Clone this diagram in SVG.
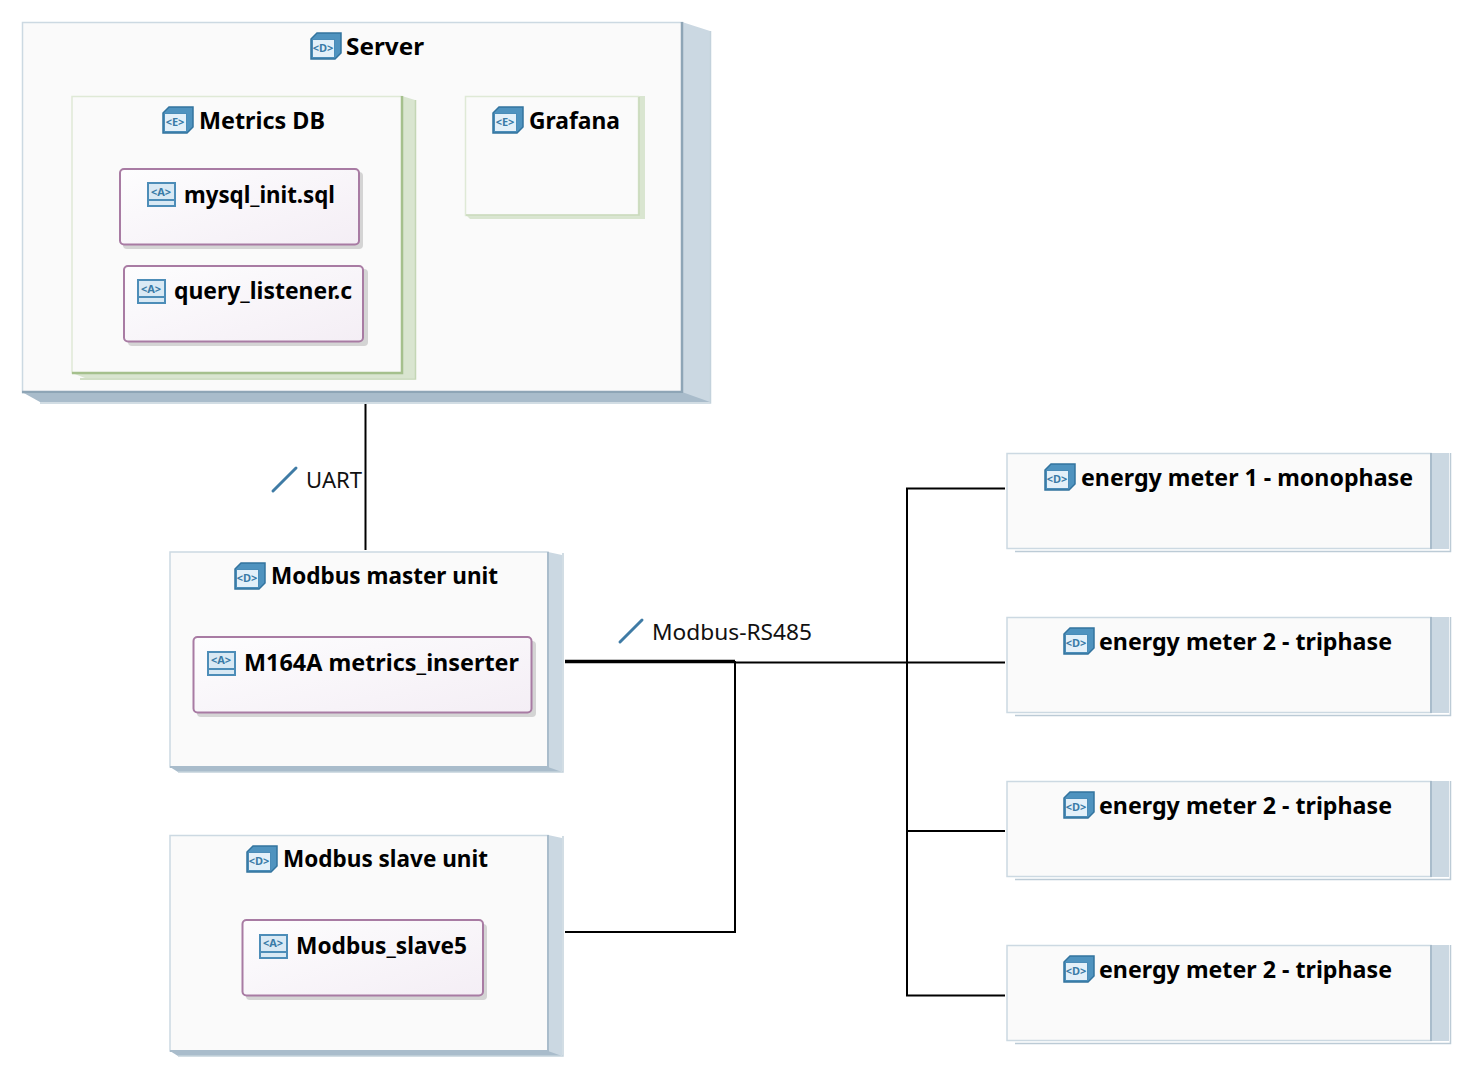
<svg xmlns="http://www.w3.org/2000/svg" xmlns:xlink="http://www.w3.org/1999/xlink" width="1471" height="1077" viewBox="0 0 1471 1077">
<style>
text{font-family:"Noto Sans","Open Sans","Liberation Sans",sans-serif}
.t{font-weight:700;font-size:24px;fill:#000}
.l{font-size:22px;fill:#111}
.i{font-size:11px;font-weight:700;fill:#3a7ba7;text-anchor:middle}
.f{fill:#fafafa}
.nb{stroke:#ccd9e2;stroke-width:1.5}
.ns{fill:#cbd8e2}
.nd{fill:#a9bccb}
.ne{stroke:#8ea5b6;stroke-width:2.5}
.gb{stroke:#dfe9d6;stroke-width:1.5}
.gs{fill:#d9e5d0}
.ge{stroke:#a5c08d;stroke-width:2.5}
.c{fill:none;stroke:#000;stroke-width:2}
.tick{stroke:#3f7ba5;stroke-width:3;stroke-linecap:round}
.ar{fill:url(#pg);stroke:#a87ba3;stroke-width:2}
</style>
<defs>
<linearGradient id="pg" x1="0" y1="0" x2="1" y2="1"><stop offset="0" stop-color="#fdfdfe"/><stop offset="1" stop-color="#f4eef5"/></linearGradient>
<symbol id="box" viewBox="0 0 31 28" width="31" height="28" overflow="visible">
<path d="M1 7 7 1H31V21L25 27H1Z" fill="#4f93bf" stroke="#33749f" stroke-width="1.500"/>
<rect x="2.500" y="7.500" width="22" height="18" fill="#e3f0f9" stroke="#4a8cb8"/>
</symbol>
<symbol id="art" viewBox="0 0 30 26" width="30" height="26" overflow="visible">
<rect x="1" y="1" width="27" height="23" fill="#d9e9f4" stroke="#4d8db8" stroke-width="2"/>
<path d="M2 18H27" stroke="#4d8db8" stroke-width="2"/>
</symbol>
</defs>

<g id="connectors">
<path class="c" d="M365.500 404V550"/>
<path class="c" d="M735 662.500H1005"/>
<path d="M565 661.500H735" fill="none" stroke="#000" stroke-width="3.500"/>
<path class="c" d="M735 661V932H565"/>
<path class="c" d="M1005 488.500H907V995.500H1005M907 831H1005"/>
<path class="tick" d="M273 491 296 468"/>
<text class="l" x="306" y="488" textLength="56" lengthAdjust="spacingAndGlyphs">UART</text>
<path class="tick" d="M620 642 642 620"/>
<text class="l" x="652" y="640" textLength="160" lengthAdjust="spacingAndGlyphs">Modbus-RS485</text>
</g>

<g id="server">
<path class="ns" d="M682 22 710 31V402H682Z"/>
<path class="nd" d="M22 392H682L710 402H40Z"/>
<path d="M710.500 31V403H40" fill="none" stroke="#c3d2dc" stroke-width="1.500"/>
<rect class="f nb" x="22.500" y="22.500" width="660" height="370"/>
<path class="ne" d="M682 22V392H22" fill="none"/>
<use xlink:href="#box" href="#box" x="310" y="32"/><text class="i" x="323" y="52">&lt;D&gt;</text>
<text class="t" x="346" y="55" textLength="78" lengthAdjust="spacingAndGlyphs">Server</text>
</g>

<g id="metrics-db">
<path class="gs" d="M402 96 415 100V378H402Z"/>
<path d="M72 373H402L415 378H85Z" fill="#d9e5d0"/>
<path d="M415.500 100V379H80" fill="none" stroke="#c4d6b5" stroke-width="1.500"/>
<rect class="f gb" x="72" y="96.500" width="330" height="276.500"/>
<path class="ge" d="M402 96V373H72" fill="none" stroke-width="2"/>
<use xlink:href="#box" href="#box" x="162" y="106"/><text class="i" x="175" y="126">&lt;E&gt;</text>
<text class="t" x="199" y="129" textLength="126" lengthAdjust="spacingAndGlyphs">Metrics DB</text>
</g>

<g id="mysql-init">
<rect x="123" y="172" width="240" height="77" rx="4" fill="#d4d4d4"/>
<rect class="ar" x="120" y="169" width="239" height="75.500" rx="4"/>
<use xlink:href="#art" href="#art" x="147" y="182"/><text class="i" x="161" y="196">&lt;A&gt;</text>
<text class="t" x="184" y="203" textLength="151" lengthAdjust="spacingAndGlyphs">mysql_init.sql</text>
</g>

<g id="query-listener">
<rect x="128" y="269" width="240" height="77" rx="4" fill="#d4d4d4"/>
<rect class="ar" x="124" y="266" width="239" height="75.500" rx="4"/>
<use xlink:href="#art" href="#art" x="137" y="279"/><text class="i" x="151" y="293">&lt;A&gt;</text>
<text class="t" x="174" y="299" textLength="178" lengthAdjust="spacingAndGlyphs">query_listener.c</text>
</g>

<g id="grafana">
<path class="gs" d="M638 96H645V219H638Z"/>
<path d="M466 215H645V219H470Z" fill="#d9e5d0"/>
<rect class="f gb" x="465.500" y="96.500" width="173" height="119"/>
<path d="M639 97V215H466" fill="none" stroke="#c9d9bb" stroke-width="1.500"/>
<use xlink:href="#box" href="#box" x="492" y="106"/><text class="i" x="505" y="126">&lt;E&gt;</text>
<text class="t" x="529" y="129" textLength="91" lengthAdjust="spacingAndGlyphs">Grafana</text>
</g>

<g id="modbus-master">
<path class="ns" d="M548 552 562 555V771H548Z"/>
<path class="nd" d="M170 767H548L562 772H178Z"/>
<path d="M563 553V772H178" fill="none" stroke="#c3d2dc" stroke-width="1.500"/>
<rect class="f nb" x="170" y="552" width="378" height="215"/>
<path d="M548 552V767H170" fill="none" stroke="#a9bccb" stroke-width="2"/>
<use xlink:href="#box" href="#box" x="234" y="562"/><text class="i" x="247" y="582">&lt;D&gt;</text>
<text class="t" x="271" y="584" textLength="227" lengthAdjust="spacingAndGlyphs">Modbus master unit</text>
</g>

<g id="m164a">
<rect x="197" y="641" width="339" height="76" rx="4" fill="#d4d4d4"/>
<rect class="ar" x="193.500" y="637" width="338" height="75.500" rx="4"/>
<use xlink:href="#art" href="#art" x="207" y="651"/><text class="i" x="221" y="664">&lt;A&gt;</text>
<text class="t" x="244" y="671" textLength="275" lengthAdjust="spacingAndGlyphs">M164A metrics_inserter</text>
</g>

<g id="modbus-slave">
<path class="ns" d="M548 835 562 838V1055H548Z"/>
<path class="nd" d="M170 1051H548L562 1056H178Z"/>
<path d="M563 836V1056H178" fill="none" stroke="#c3d2dc" stroke-width="1.500"/>
<rect class="f nb" x="170" y="835.500" width="378" height="215.500"/>
<path d="M548 835V1051H170" fill="none" stroke="#a9bccb" stroke-width="2"/>
<use xlink:href="#box" href="#box" x="246" y="845"/><text class="i" x="259" y="865">&lt;D&gt;</text>
<text class="t" x="283" y="867" textLength="205" lengthAdjust="spacingAndGlyphs">Modbus slave unit</text>
</g>

<g id="modbus-slave5">
<rect x="246" y="924" width="241" height="76" rx="4" fill="#d4d4d4"/>
<rect class="ar" x="242.500" y="920" width="240.500" height="75.500" rx="4"/>
<use xlink:href="#art" href="#art" x="259" y="934"/><text class="i" x="273" y="947">&lt;A&gt;</text>
<text class="t" x="296" y="954" textLength="171" lengthAdjust="spacingAndGlyphs">Modbus_slave5</text>
</g>

<g id="energy-meter-1">
<path class="ns" d="M1431 453H1449V549H1431Z"/>
<path d="M1450.500 453V551.500H1015" fill="none" stroke="#bccbd6" stroke-width="1.500"/>
<rect class="f nb" x="1007" y="453.500" width="424" height="95"/>
<path d="M1431 453V549" stroke="#a9bccb" stroke-width="2"/>
<use xlink:href="#box" href="#box" x="1044" y="463"/><text class="i" x="1057" y="483">&lt;D&gt;</text>
<text class="t" x="1081" y="486" textLength="332" lengthAdjust="spacingAndGlyphs">energy meter 1 - monophase</text>
</g>

<g id="energy-meter-2a">
<path class="ns" d="M1431 617H1449V713H1431Z"/>
<path d="M1450.500 617V715.500H1015" fill="none" stroke="#bccbd6" stroke-width="1.500"/>
<rect class="f nb" x="1007" y="617.500" width="424" height="95"/>
<path d="M1431 617V713" stroke="#a9bccb" stroke-width="2"/>
<use xlink:href="#box" href="#box" x="1063" y="627"/><text class="i" x="1076" y="647">&lt;D&gt;</text>
<text class="t" x="1099" y="650" textLength="293" lengthAdjust="spacingAndGlyphs">energy meter 2 - triphase</text>
</g>

<g id="energy-meter-2b">
<path class="ns" d="M1431 781H1449V877H1431Z"/>
<path d="M1450.500 781V879.500H1015" fill="none" stroke="#bccbd6" stroke-width="1.500"/>
<rect class="f nb" x="1007" y="781.500" width="424" height="95"/>
<path d="M1431 781V877" stroke="#a9bccb" stroke-width="2"/>
<use xlink:href="#box" href="#box" x="1063" y="791"/><text class="i" x="1076" y="811">&lt;D&gt;</text>
<text class="t" x="1099" y="814" textLength="293" lengthAdjust="spacingAndGlyphs">energy meter 2 - triphase</text>
</g>

<g id="energy-meter-2c">
<path class="ns" d="M1431 945H1449V1041H1431Z"/>
<path d="M1450.500 945V1043.500H1015" fill="none" stroke="#bccbd6" stroke-width="1.500"/>
<rect class="f nb" x="1007" y="945.500" width="424" height="95"/>
<path d="M1431 945V1041" stroke="#a9bccb" stroke-width="2"/>
<use xlink:href="#box" href="#box" x="1063" y="955"/><text class="i" x="1076" y="975">&lt;D&gt;</text>
<text class="t" x="1099" y="978" textLength="293" lengthAdjust="spacingAndGlyphs">energy meter 2 - triphase</text>
</g>
</svg>
